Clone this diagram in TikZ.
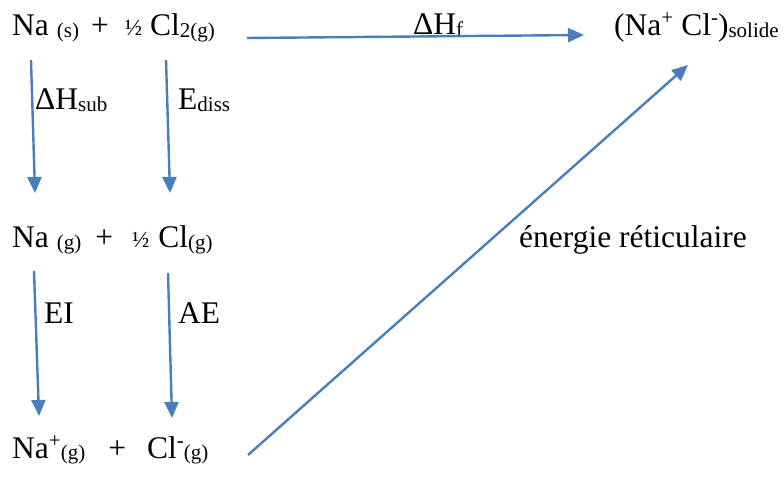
\documentclass[tikz,border=0pt]{standalone}
\usepackage{fontspec}
\setmainfont{Liberation Serif}
\usetikzlibrary{arrows.meta}
\definecolor{arrowblue}{RGB}{74,126,187}
\newcommand{\mydn}[1]{\raisebox{-1.5pt}{\fontsize{21}{21}\selectfont #1}}
\newcommand{\myup}[1]{\raisebox{11pt}{\fontsize{21}{21}\selectfont #1}}
\newcommand{\half}{{\fontsize{23}{23}\selectfont ½}}
\begin{document}
\begin{tikzpicture}[x=1pt,y=-1pt,
  txt/.style={anchor=base west,inner sep=0pt,font=\fontsize{31.5}{36}\selectfont},
  arr/.style={draw=arrowblue,line width=2.4pt,-{Triangle[length=16pt,width=14pt]}}]
\useasboundingbox (0,0) rectangle (784,478);
% texts
\node[txt] (r1) at (12,36) {Na\hspace{8pt}\mydn{(s)}\hspace{12pt}+\hspace{16pt}\half\hspace{8pt}Cl\mydn{2(g)}};
\node[txt] (r2) at (12,248) {Na\hspace{8pt}\mydn{(g)}\hspace{14pt}+\hspace{19pt}\half\hspace{9pt}Cl\mydn{(g)}};
\node[txt] (r3) at (12,458) {Na\myup{+}\mydn{(g)}\hspace{23pt}+\hspace{21pt}Cl\myup{-}\mydn{(g)}};
\node[txt] (prod) at (614,36) {(Na\myup{+}\hspace{8pt}Cl\myup{-})\mydn{solide}};
\node[txt] (hf) at (413,35) {ΔH\mydn{f}};
\node[txt] (hsub) at (35,110) {ΔH\mydn{sub}};
\node[txt] (ediss) at (178,110) {E\mydn{diss}};
\node[txt] (ei) at (44,323) {EI};
\node[txt] (ae) at (178,323) {AE};
\node[txt] (ret) at (519,248) {énergie réticulaire};
% arrow end points
\coordinate (a1s) at (31,60);  \coordinate (a1e) at (35,193);
\coordinate (a2s) at (166,60); \coordinate (a2e) at (170,193);
\coordinate (a3s) at (34,271); \coordinate (a3e) at (39,416);
\coordinate (a4s) at (168,273); \coordinate (a4e) at (172,418);
\coordinate (hs) at (247,38);  \coordinate (he) at (584,35);
\coordinate (ds) at (248,455); \coordinate (de) at (688,65);
\draw[arr] (a1s) -- (a1e);
\draw[arr] (a2s) -- (a2e);
\draw[arr] (a3s) -- (a3e);
\draw[arr] (a4s) -- (a4e);
\draw[arr] (hs) -- (he);
\draw[arr] (ds) -- (de);
\end{tikzpicture}
\end{document}
